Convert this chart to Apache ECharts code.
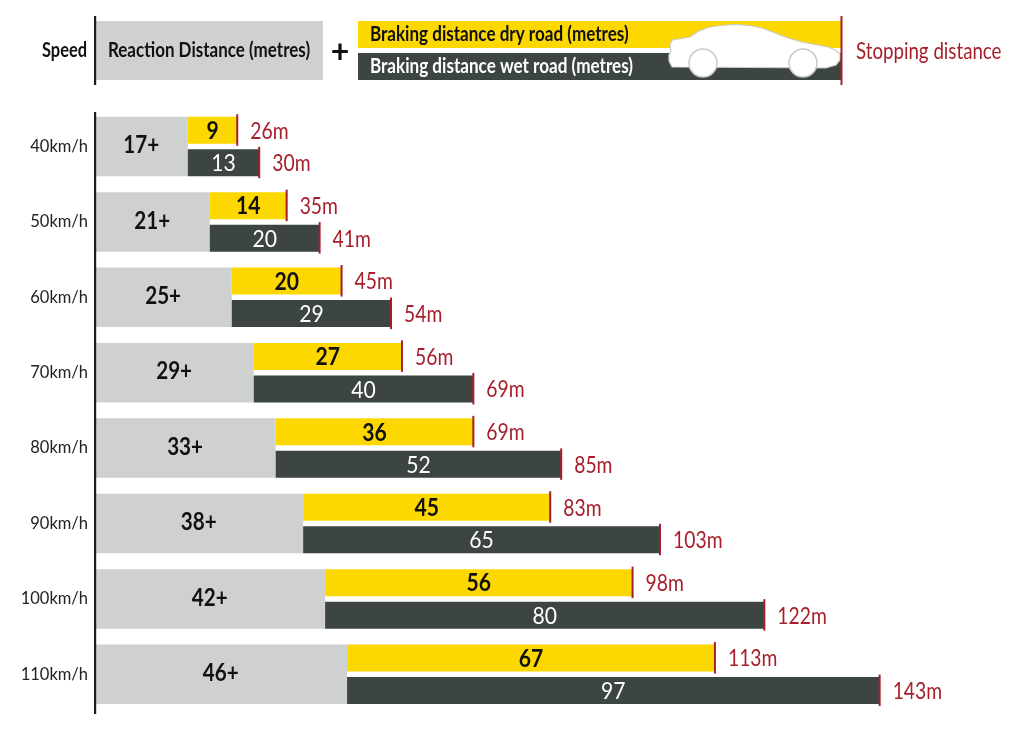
<!DOCTYPE html>
<html><head><meta charset="utf-8">
<style>html,body{margin:0;padding:0;background:#fff}#c{width:1024px;height:730px}</style>
<script src="https://cdn.jsdelivr.net/npm/echarts@6/dist/echarts.min.js"></script>
</head><body><div id="c"></div>
<script>
const categories = ['40km/h','50km/h','60km/h','70km/h','80km/h','90km/h','100km/h','110km/h'];
const reaction = [17,21,25,29,33,38,42,46];
const brakingDry = [9,14,20,27,36,45,56,67];
const brakingWet = [13,20,29,40,52,65,80,97];
const stoppingDry = [26,35,45,56,69,83,98,113];
const stoppingWet = [30,41,54,69,85,103,122,143];

const GREY='#ced1d0', YELLOW='#fdd800', DARK='#3d4543', RED='#a71e2b', INK='#111';
const FONT='Lato';
const chart = echarts.init(document.getElementById('c'));

function label(x,y,text,fill,size,weight,scale,align){
  return {type:'text',x:x,y:y,scaleX:scale,z2:5,style:{text:text,fill:fill,
    font:weight+' '+size+'px '+FONT,textAlign:align||'center',textVerticalAlign:'middle'}};
}
const H=59.5/75.4, BAR=27/59.5;
function rowBox(api){
  const c=api.coord([0,api.value(0)]), band=api.size([0,1])[1], h=band*H;
  return {top:c[1]-h/2,h:h,bar:h*BAR};
}
function renderReaction(p,api){
  const b=rowBox(api), x0=api.coord([0,api.value(0)])[0], x1=api.coord([api.value(1),api.value(0)])[0];
  return {type:'group',children:[
    {type:'rect',shape:{x:x0+1.5,y:b.top,width:x1-x0-1.5,height:b.h},style:{fill:GREY}},
    label((x0+x1)/2,b.top+b.h/2-1,api.value(1)+'+',INK,24,'700',0.86)
  ]};
}
function brakingRender(isDry){
  return function(p,api){
    const b=rowBox(api), i=api.value(0);
    const x0=api.coord([api.value(1),i])[0], x1=api.coord([api.value(3),i])[0];
    const y=isDry?b.top:b.top+b.h-b.bar, cy=y+b.bar/2;
    return {type:'group',children:[
      {type:'rect',shape:{x:x0,y:y,width:x1-x0,height:b.bar},style:{fill:isDry?YELLOW:DARK}},
      {type:'rect',shape:{x:x1-1,y:y-2.5,width:2,height:b.bar+4.5},style:{fill:RED}},
      label((x0+x1)/2,cy+1,String(api.value(2)),isDry?INK:'#fff',24,isDry?'700':'400',0.88),
      label(x1+13,cy+1,api.value(3)+'m',RED,23,'400',0.84,'left')
    ]};
  };
}
function rows(b,s){return categories.map((c,i)=>[i,reaction[i],b[i],s[i]]);}

const carOutline=[[672,40],[682,38.5],[690,37],[698,31.5],[708,27.5],[720,25.5],[735,24.5],[750,25.5],[762,28],[775,33],[788,38],[800,41.5],[815,44.5],[828,47],[835,50],[840,54],[840,60],[836,65],[826,68],[672,67],[669,61],[669,55],[671,51],[670,45]];

const graphic=[
  {type:'rect',shape:{x:96,y:21,width:227,height:59},style:{fill:GREY},z:1},
  {type:'rect',shape:{x:358,y:21,width:483,height:27},style:{fill:YELLOW},z:1},
  {type:'rect',shape:{x:358,y:53,width:483,height:27},style:{fill:DARK},z:1},
  {type:'polygon',shape:{points:carOutline},style:{fill:'#fff',stroke:'#c9cbc9',lineWidth:1.2},z:2},
  {type:'circle',shape:{cx:703,cy:63,r:14},style:{fill:'#fff',stroke:'#c9cbc9',lineWidth:1.5},z:3},
  {type:'circle',shape:{cx:803,cy:63,r:14},style:{fill:'#fff',stroke:'#c9cbc9',lineWidth:1.5},z:3},
  {type:'rect',shape:{x:840.5,y:16,width:2,height:69},style:{fill:RED},z:4},
  {type:'rect',shape:{x:94,y:16,width:2.2,height:69},style:{fill:'#1c1c1c'},z:4},
  {type:'rect',shape:{x:94,y:112,width:2.2,height:602},style:{fill:'#1c1c1c'},z:4},
  Object.assign(label(87,51,'Speed',INK,20,'700',0.82,'right'),{z:5}),
  Object.assign(label(209,51,'Reaction Distance (metres)',INK,20,'700',0.85),{z:5}),
  Object.assign(label(340,53,'+',INK,32,'700',1),{z:5}),
  Object.assign(label(370,35,'Braking distance dry road (metres)',INK,20,'700',0.853,'left'),{z:5}),
  Object.assign(label(370,67,'Braking distance wet road (metres)','#fff',20,'700',0.855,'left'),{z:5}),
  Object.assign(label(856,52,'Stopping distance',RED,23,'400',0.813,'left'),{z:5})
];

chart.setOption({
  animation:false,
  backgroundColor:'#fff',
  grid:{left:94.5,top:108.8,right:0.5,height:603.2},
  xAxis:{type:'value',min:0,max:169.2,show:false},
  yAxis:{type:'category',inverse:true,data:categories,
    axisLine:{show:false},axisTick:{show:false},splitLine:{show:false},
    axisLabel:{margin:6.5,color:'#222',fontFamily:FONT,fontSize:16.5,padding:[0,0,4,0]}},
  graphic:graphic,
  series:[
    {name:'Reaction distance',type:'custom',renderItem:renderReaction,data:rows(brakingDry,stoppingDry),encode:{x:1,y:0},z:2},
    {name:'Braking distance dry road',type:'custom',renderItem:brakingRender(true),data:rows(brakingDry,stoppingDry),encode:{x:3,y:0},z:3},
    {name:'Braking distance wet road',type:'custom',renderItem:brakingRender(false),data:rows(brakingWet,stoppingWet),encode:{x:3,y:0},z:3}
  ]
});
</script></body></html>
